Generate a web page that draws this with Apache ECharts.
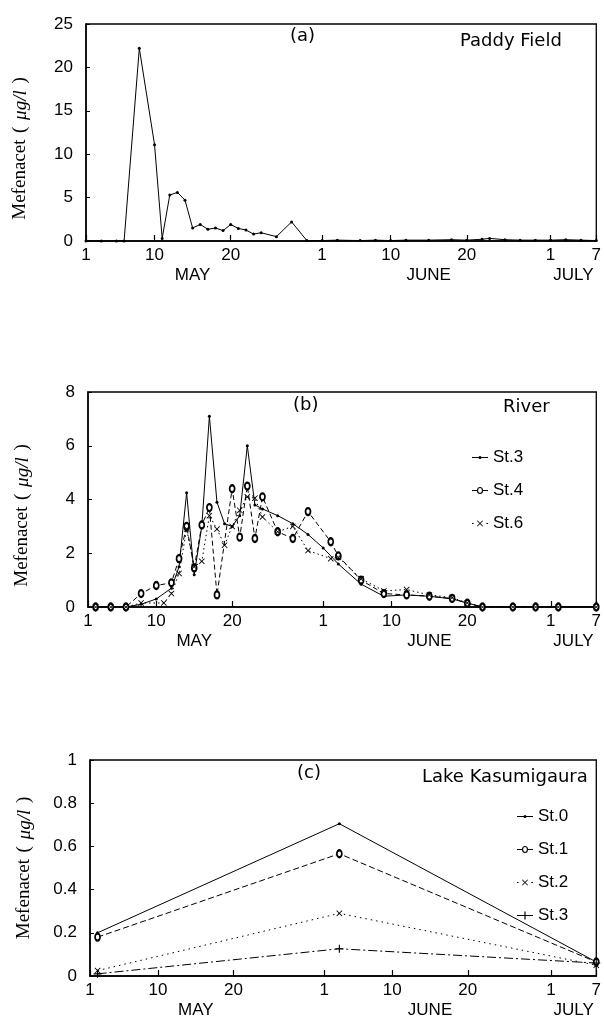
<!DOCTYPE html>
<html>
<head>
<meta charset="utf-8">
<script src="https://cdn.jsdelivr.net/npm/echarts@6/dist/echarts.min.js"></script>
<style>html,body{margin:0;padding:0;background:#fff}#c{width:604px;height:1019px}</style>
</head>
<body>
<div id="c"></div>
<script>
// Day offsets counted from May 1 (= 0) to July 7 (= 67)
const dayCount = 68;
const tickDays = [0, 9, 19, 31, 40, 50, 61, 67];
const tickLabels = ['1', '10', '20', '1', '10', '20', '1', '7'];
const monthDays = [14, 45, 64];
const monthLabels = ['MAY', 'JUNE', 'JULY'];

// (a) Paddy Field
const paddyDays =   [0, 2, 4, 5, 7, 9, 10, 11, 12, 13, 14, 15, 16, 17, 18, 19, 20, 21, 22, 23, 25, 27, 29, 31, 33, 36, 38, 40, 42, 45, 48, 50, 52, 53, 55, 57, 59, 61, 63, 65, 67];
const paddyValues = [0, 0, 0, 0, 22.2, 11.1, 0.3, 5.3, 5.6, 4.7, 1.5, 1.9, 1.35, 1.5, 1.2, 1.9, 1.45, 1.27, 0.8, 0.95, 0.5, 2.2, 0.05, 0.05, 0.1, 0.05, 0.1, 0.05, 0.1, 0.1, 0.15, 0.1, 0.2, 0.3, 0.15, 0.1, 0.1, 0.1, 0.15, 0.1, 0.05];

// (b) River
const riverSt3Days = [1, 3, 5, 7, 9, 11, 12, 13, 14, 15, 16, 17, 18, 19, 20, 21, 22, 23, 25, 27, 29, 31, 33, 36, 39, 42, 45, 48, 50, 52, 56, 59, 62, 67];
const riverSt3 =     [0, 0, 0, 0.1, 0.3, 0.7, 1.5, 4.25, 1.2, 3.0, 7.1, 3.9, 3.1, 3.0, 3.4, 6.0, 3.8, 3.65, 3.4, 3.1, 2.7, 2.2, 1.6, 0.85, 0.4, 0.45, 0.4, 0.3, 0.15, 0, 0, 0, 0, 0];
const riverSt4Days = [1, 3, 5, 7, 9, 11, 12, 13, 14, 15, 16, 17, 19, 20, 21, 22, 23, 25, 27, 29, 32, 33, 36, 39, 42, 45, 48, 50, 52, 56, 59, 62, 67];
const riverSt4 =     [0, 0, 0, 0.5, 0.8, 0.9, 1.8, 3.0, 1.45, 3.05, 3.7, 0.45, 4.4, 2.6, 4.5, 2.55, 4.1, 2.8, 2.55, 3.55, 2.43, 1.9, 1.0, 0.5, 0.45, 0.4, 0.32, 0.14, 0, 0, 0, 0, 0];
const riverSt6Days = [1, 3, 5, 7, 10, 11, 12, 13, 14, 15, 16, 17, 18, 19, 20, 21, 22, 23, 25, 27, 29, 32, 33, 36, 39, 42, 45, 48, 50, 52, 56, 59, 62, 67];
const riverSt6 =     [0, 0, 0, 0.15, 0.15, 0.5, 1.25, 2.9, 1.5, 1.7, 3.4, 2.9, 2.3, 3.0, 3.6, 4.1, 4.05, 3.35, 2.8, 3.0, 2.1, 1.8, 1.85, 1.05, 0.6, 0.65, 0.45, 0.35, 0.15, 0, 0, 0, 0, 0];

// (c) Lake Kasumigaura
const lakeDays = [1, 33, 67];
const lakeSt0 = [0.2, 0.705, 0.065];
const lakeSt1 = [0.18, 0.566, 0.065];
const lakeSt2 = [0.025, 0.29, 0.05];
const lakeSt3 = [0.01, 0.126, 0.06];

const categories = Array.from({length: dayCount}, (_, i) => i);
const pairs = (days, vals) => days.map((d, i) => [d, vals[i]]);

const SANS = 'Liberation Sans';
const SERIF = 'Liberation Serif';
const DJ = 'DejaVu Sans';
const XSYM = 'path://M0,1L1,0L5,4L9,0L10,1L6,5L10,9L9,10L5,6L1,10L0,9L4,5Z';
const PSYM = 'path://M4.3,0H5.7V4.3H10V5.7H5.7V10H4.3V5.7H0V4.3H4.3Z';

// legend icons (line piece + marker)
const ICON_DOT = 'path://M0,1.1H16V1.9H0Z M6.5,1.5A1.5,1.5 0 1,1 9.5,1.5A1.5,1.5 0 1,1 6.5,1.5Z';
const ICON_RING = 'path://M0,3.1H5V3.9H0Z M11,3.1H16V3.9H11Z M5,3.5A3,3.5 0 1,1 11,3.5A3,3.5 0 1,1 5,3.5Z M6.1,3.5A1.9,2.4 0 1,0 9.9,3.5A1.9,2.4 0 1,0 6.1,3.5Z';
const ICON_X = 'path://M0,2.4H1.6V3.6H0Z M14.4,2.4H16V3.6H14.4Z M5,0.6L5.6,0L8,2.4L10.4,0L11,0.6L8.6,3L11,5.4L10.4,6L8,3.6L5.6,6L5,5.4L7.4,3Z';
const ICON_PLUS = 'path://M0,3.6H16V4.4H0Z M7.4,0H8.6V3.4H12V4.6H8.6V8H7.4V4.6H4V3.4H7.4Z';

const grids = [
  {left: 86, right: 7, top: 24, height: 217},
  {left: 88, right: 6, top: 392, height: 215},
  {left: 90, right: 4, top: 760, height: 217}
].map(g => Object.assign({show: true, borderColor: '#000', borderWidth: 1.3, backgroundColor: 'transparent'}, g));

const xAxes = [];
const yAxes = [];
const yCfg = [{max: 25, interval: 5, pad: 32}, {max: 8, interval: 2, pad: 32}, {max: 1, interval: 0.2, pad: 0}];
grids.forEach((g, gi) => {
  xAxes.push({
    type: 'category', gridIndex: gi, data: categories, boundaryGap: false,
    axisLine: {lineStyle: {color: '#000', width: 1.5}},
    axisTick: {inside: true, length: 6, lineStyle: {color: '#000', width: 1.2},
      interval: (i) => tickDays.indexOf(i) >= 0},
    axisLabel: {interval: (i) => tickDays.indexOf(i) >= 0,
      formatter: (v) => { const k = tickDays.indexOf(Number(v)); return k >= 0 ? tickLabels[k] : ''; },
      color: '#000', fontFamily: SANS, fontSize: 17, margin: 6},
    splitLine: {show: false}
  });
  xAxes.push({
    type: 'category', gridIndex: gi, data: categories, boundaryGap: false, position: 'bottom',
    axisLine: {show: false}, axisTick: {show: false}, splitLine: {show: false},
    axisLabel: {interval: (i) => monthDays.indexOf(i) >= 0,
      formatter: (v) => { const k = monthDays.indexOf(Number(v)); return k >= 0 ? monthLabels[k] : ''; },
      color: '#000', fontFamily: SANS, fontSize: 17, margin: 26}
  });
  yAxes.push({
    type: 'value', gridIndex: gi, min: 0, max: yCfg[gi].max, interval: yCfg[gi].interval,
    axisLine: {show: true, lineStyle: {color: '#000', width: 1.5}},
    axisTick: {show: true, inside: true, length: 4, lineStyle: {color: '#000'}},
    axisLabel: {color: '#000', fontFamily: SANS, fontSize: 17, margin: 13},
    splitLine: {show: false},
    name: '{a|Mefenacet}  {a|(}  {b|μg/l}  {a|)}',
    nameLocation: 'middle', nameGap: 56, nameRotate: 90,
    nameTextStyle: {padding: [0, yCfg[gi].pad, 0, 0],
      rich: {a: {fontFamily: SERIF, fontSize: 19, color: '#000'},
             b: {fontFamily: SERIF, fontSize: 19, fontStyle: 'italic', color: '#000'}}}
  });
});

function line(name, gi, days, vals, dash, symbol, size) {
  return {
    name: name, type: 'line', xAxisIndex: gi * 2, yAxisIndex: gi,
    data: pairs(days, vals), symbol: symbol, symbolSize: size,
    showSymbol: true, showAllSymbol: true,
    lineStyle: {color: '#000', width: 1, type: dash},
    itemStyle: {color: '#000', borderColor: '#000', borderWidth: symbol === 'emptyCircle' ? 0.9 : 0},
    animation: false, z: 3
  };
}

const ttl = (text, left, top, font, size) => ({text: text, left: left, top: top, padding: 0,
  textStyle: {fontFamily: font, fontSize: size, fontWeight: 'normal', color: '#000'}});

const legendBase = {orient: 'vertical', itemGap: 16, itemWidth: 16, itemHeight: 8,
  textStyle: {fontFamily: SANS, fontSize: 17, color: '#000'}, selectedMode: false,
  itemStyle: {color: '#000', borderWidth: 0}, symbolKeepAspect: true};

const option = {
  animation: false,
  backgroundColor: '#fff',
  title: [
    ttl('(a)', 290, 27, DJ, 18), ttl('Paddy Field', 460, 32, DJ, 18),
    ttl('(b)', 293, 396, DJ, 18), ttl('River', 503, 398, DJ, 18),
    ttl('(c)', 297, 764, DJ, 18), ttl('Lake Kasumigaura', 422, 768, DJ, 18)
  ],
  legend: [
    Object.assign({}, legendBase, {left: 467, top: 444,
      data: [{name: 'St.3', icon: ICON_DOT}, {name: 'St.4', icon: ICON_RING}, {name: 'St.6', icon: ICON_X}]}),
    Object.assign({}, legendBase, {left: 512, top: 803, formatter: (n) => n.trim(),
      data: [{name: 'St.0', icon: ICON_DOT}, {name: 'St.1', icon: ICON_RING}, {name: 'St.2', icon: ICON_X}, {name: 'St.3 ', icon: ICON_PLUS}]})
  ],
  grid: grids,
  xAxis: xAxes,
  yAxis: yAxes,
  series: [
    line('Paddy Field', 0, paddyDays, paddyValues, 'solid', 'circle', 3),
    line('St.3', 1, riverSt3Days, riverSt3, 'solid', 'circle', 3),
    line('St.4', 1, riverSt4Days, riverSt4, [5, 3], 'emptyCircle', [5, 7]),
    line('St.6', 1, riverSt6Days, riverSt6, [1.5, 3], XSYM, 6),
    line('St.0', 2, lakeDays, lakeSt0, 'solid', 'circle', 3),
    line('St.1', 2, lakeDays, lakeSt1, [6, 3], 'emptyCircle', [5, 7]),
    line('St.2', 2, lakeDays, lakeSt2, [1.5, 4], XSYM, 6),
    line('St.3 ', 2, lakeDays, lakeSt3, [9, 3, 2, 3], PSYM, 8)
  ]
};

const chart = echarts.init(document.getElementById('c'), null, {renderer: 'canvas'});
chart.setOption(option);
</script>
</body>
</html>
